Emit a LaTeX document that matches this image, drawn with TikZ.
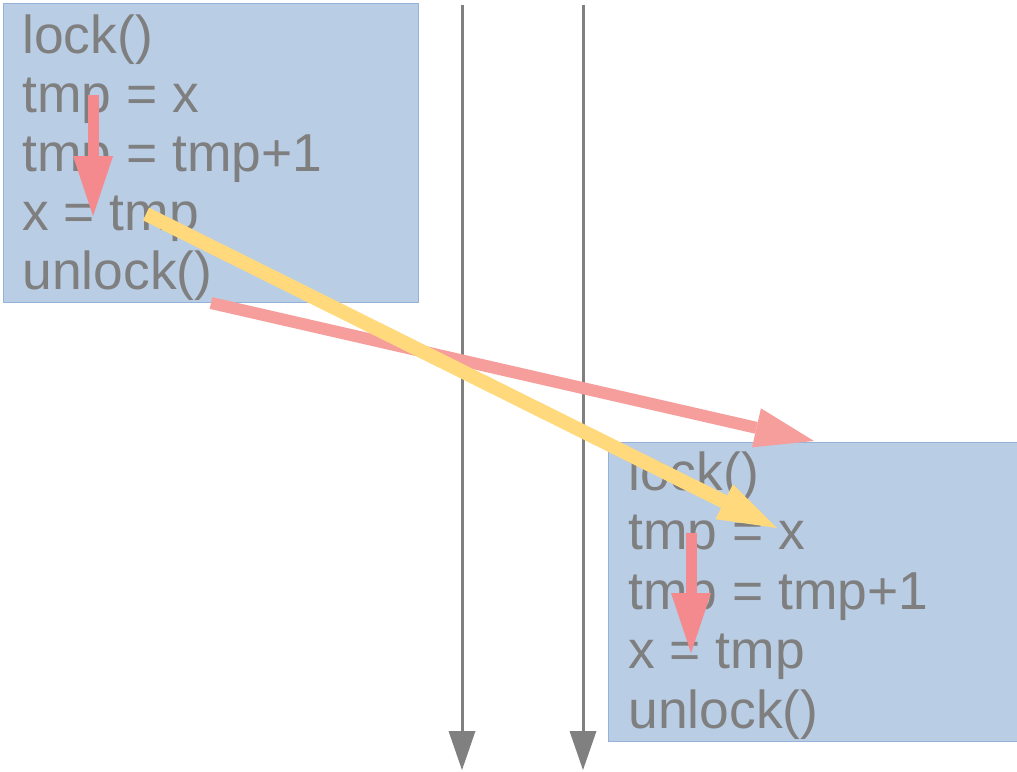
\documentclass[tikz,border=0pt]{standalone}
\usepackage{fontspec}
\setmainfont{Liberation Sans}
\usetikzlibrary{arrows.meta}
\definecolor{boxfill}{HTML}{B9CDE5}
\definecolor{boxline}{HTML}{95B3D7}
\definecolor{codegray}{HTML}{7F7F7F}
\definecolor{linegray}{HTML}{808080}
\definecolor{redshort}{HTML}{F48A8D}
\definecolor{redlong}{HTML}{F59E9B}
\definecolor{yellowarr}{HTML}{FFD97B}
\begin{document}
\begin{tikzpicture}[x=0.5pt,y=-0.5pt,
  box/.style={draw=boxline, fill=boxfill, line width=0.7pt, anchor=north west, inner sep=0pt},
  code/.style={anchor=base west, inner sep=0pt, text=codegray, font=\fontsize{26.7}{30}\selectfont},
  timeline/.style={draw=linegray, line width=1.5pt, -{Triangle[length=19.5pt,width=13.5pt,line width=0pt]}},
  redarrow/.style={draw=redshort, line width=5.5pt, -{Triangle[length=30pt,width=20pt,line width=0pt]}},
  longred/.style={draw=redlong, line width=6pt, -{Triangle[length=29.5pt,width=20pt,line width=0pt]}},
  yelarrow/.style={draw=yellowarr, line width=7pt, -{Triangle[length=29.5pt,width=19.5pt,line width=0pt]}}]
\useasboundingbox (0,0) rectangle (1017,771);
% timelines
\coordinate (t1s) at (462,5);
\coordinate (t1e) at (462,770);
\coordinate (t2s) at (583,5);
\coordinate (t2e) at (583,770);
\draw[timeline] (t1s) -- (t1e);
\draw[timeline] (t2s) -- (t2e);
% boxes
\node[box, minimum width=207.5pt, minimum height=149.5pt] (b1) at (3,3) {};
\node[box, minimum width=205pt, minimum height=149.5pt] (b2) at (607.5,442) {};
% code lines box 1
\node[code] (a1) at (22,53) {lock()};
\node[code] (a2) at (22,112) {tmp = x};
\node[code] (a3) at (22,171) {tmp = tmp+1};
\node[code] (a4) at (22,230) {x = tmp};
\node[code] (a5) at (22,289) {unlock()};
% code lines box 2
\node[code] (c1) at (628,490) {lock()};
\node[code] (c2) at (628,549.5) {tmp = x};
\node[code] (c3) at (628,609) {tmp = tmp+1};
\node[code] (c4) at (628,668.5) {x = tmp};
\node[code] (c5) at (628,728) {unlock()};
% arrows
\coordinate (r1s) at (93,95);
\coordinate (r1e) at (93,216);
\coordinate (r2s) at (691,533);
\coordinate (r2e) at (691,653);
\coordinate (lrs) at (211,303);
\coordinate (lre) at (814,441);
\coordinate (ys) at (146,214);
\coordinate (ye) at (777,528);
\draw[redarrow] (r1s) -- (r1e);
\draw[redarrow] (r2s) -- (r2e);
\draw[longred] (lrs) -- (lre);
\draw[yelarrow] (ys) -- (ye);
\end{tikzpicture}
\end{document}
